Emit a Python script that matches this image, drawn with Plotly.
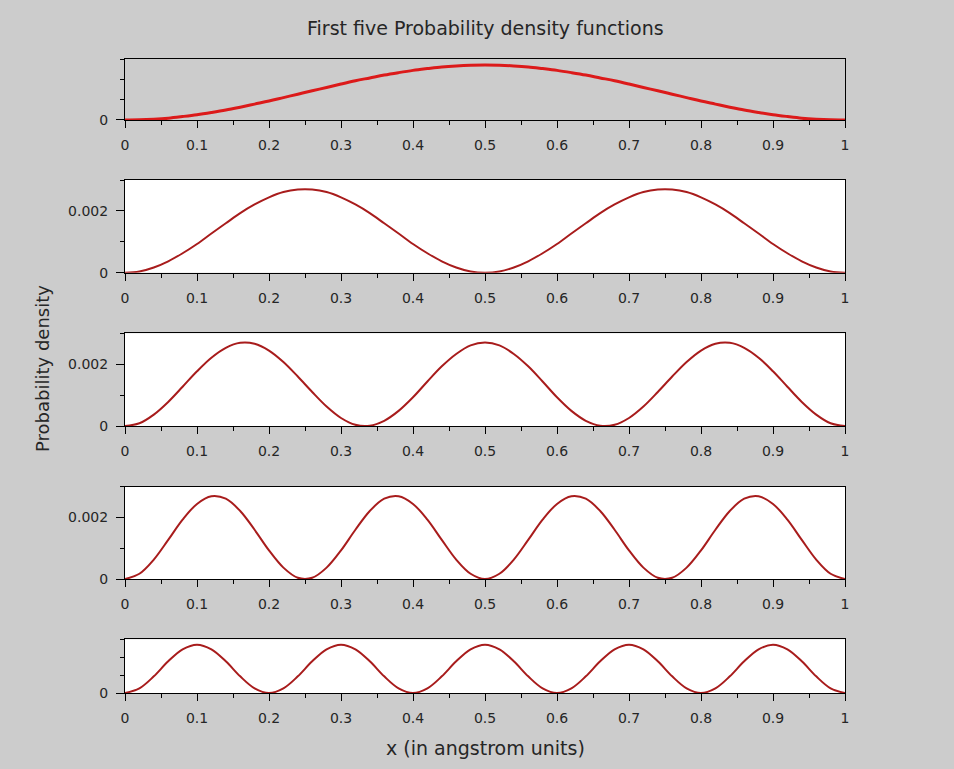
import plotly.graph_objects as go

# x positions (angstrom), step 0.02
x_vals = [round(0.02 * i, 2) for i in range(51)]

# probability densities for n = 1..5
pdf_n1 = [0, 0.00001, 0.00004, 0.00009, 0.00017, 0.00026, 0.00037, 0.00049, 0.00063, 0.00078,
          0.00093, 0.00110, 0.00127, 0.00144, 0.00160, 0.00177, 0.00193, 0.00207, 0.00221, 0.00233,
          0.00244, 0.00253, 0.00261, 0.00266, 0.00269, 0.00270, 0.00269, 0.00266, 0.00261, 0.00253,
          0.00244, 0.00233, 0.00221, 0.00207, 0.00193, 0.00177, 0.00160, 0.00144, 0.00127, 0.00110,
          0.00093, 0.00078, 0.00063, 0.00049, 0.00037, 0.00026, 0.00017, 0.00009, 0.00004, 0.00001, 0]
pdf_n2 = [0, 0.00004, 0.00017, 0.00037, 0.00063, 0.00093, 0.00127, 0.00160, 0.00193, 0.00221,
          0.00244, 0.00261, 0.00269, 0.00269, 0.00261, 0.00244, 0.00221, 0.00193, 0.00160, 0.00127,
          0.00093, 0.00063, 0.00037, 0.00017, 0.00004, 0, 0.00004, 0.00017, 0.00037, 0.00063,
          0.00093, 0.00127, 0.00160, 0.00193, 0.00221, 0.00244, 0.00261, 0.00269, 0.00269, 0.00261,
          0.00244, 0.00221, 0.00193, 0.00160, 0.00127, 0.00093, 0.00063, 0.00037, 0.00017, 0.00004, 0]
pdf_n3 = [0, 0.00009, 0.00037, 0.00078, 0.00127, 0.00177, 0.00221, 0.00253, 0.00269, 0.00266,
          0.00244, 0.00207, 0.00160, 0.00110, 0.00063, 0.00026, 0.00004, 0.00001, 0.00017, 0.00049,
          0.00093, 0.00144, 0.00193, 0.00233, 0.00261, 0.00270, 0.00261, 0.00233, 0.00193, 0.00144,
          0.00093, 0.00049, 0.00017, 0.00001, 0.00004, 0.00026, 0.00063, 0.00110, 0.00160, 0.00207,
          0.00244, 0.00266, 0.00269, 0.00253, 0.00221, 0.00177, 0.00127, 0.00078, 0.00037, 0.00009, 0]
pdf_n4 = [0, 0.00017, 0.00063, 0.00127, 0.00193, 0.00244, 0.00269, 0.00261, 0.00221, 0.00160,
          0.00093, 0.00037, 0.00004, 0.00004, 0.00037, 0.00093, 0.00160, 0.00221, 0.00261, 0.00269,
          0.00244, 0.00193, 0.00127, 0.00063, 0.00017, 0, 0.00017, 0.00063, 0.00127, 0.00193,
          0.00244, 0.00269, 0.00261, 0.00221, 0.00160, 0.00093, 0.00037, 0.00004, 0.00004, 0.00037,
          0.00093, 0.00160, 0.00221, 0.00261, 0.00269, 0.00244, 0.00193, 0.00127, 0.00063, 0.00017, 0]
pdf_n5 = [0, 0.00026, 0.00093, 0.00177, 0.00244, 0.00270, 0.00244, 0.00177, 0.00093, 0.00026,
          0, 0.00026, 0.00093, 0.00177, 0.00244, 0.00270, 0.00244, 0.00177, 0.00093, 0.00026,
          0, 0.00026, 0.00093, 0.00177, 0.00244, 0.00270, 0.00244, 0.00177, 0.00093, 0.00026,
          0, 0.00026, 0.00093, 0.00177, 0.00244, 0.00270, 0.00244, 0.00177, 0.00093, 0.00026,
          0, 0.00026, 0.00093, 0.00177, 0.00244, 0.00270, 0.00244, 0.00177, 0.00093, 0.00026, 0]

series = [pdf_n1, pdf_n2, pdf_n3, pdf_n4, pdf_n5]

x_tick_vals = [0, 0.1, 0.2, 0.3, 0.4, 0.5, 0.6, 0.7, 0.8, 0.9, 1]
x_tick_text = ["0", "0.1", "0.2", "0.3", "0.4", "0.5", "0.6", "0.7", "0.8", "0.9", "1"]

title_text = "First five Probability density functions"
x_title = "x (in angstrom units)"
y_title = "Probability density"

# layout geometry (paper fractions)
domains = [(0.9038, 1.0), (0.6629, 0.8091), (0.4211, 0.5674), (0.1798, 0.3254), (0.0, 0.0847)]
bgs = ["rgba(0,0,0,0)", "white", "white", "white", "white"]
colors = ["#dc1a1a", "#a81c1c", "#a81c1c", "#a81c1c", "#a81c1c"]
widths = [3, 2, 2, 2, 2]

FONT = "DejaVu Sans, Verdana, sans-serif"
BG = "#cccccc"
TXT = "#262626"

fig = go.Figure()
layout = dict(
    width=954, height=769,
    paper_bgcolor=BG,
    margin=dict(l=125, r=109, t=59, b=76),
    showlegend=False,
    font=dict(family=FONT, size=14, color=TXT),
    shapes=[],
)

for i, ys in enumerate(series):
    k = "" if i == 0 else str(i + 1)
    fig.add_trace(go.Scatter(
        x=x_vals, y=ys, mode="lines", xaxis="x" + k, yaxis="y" + k,
        line=dict(color=colors[i], width=widths[i], shape="spline", smoothing=1.0),
        hoverinfo="skip",
    ))
    layout["xaxis" + k] = dict(
        domain=[0, 1], anchor="y" + k, range=[0, 1],
        tickmode="array", tickvals=x_tick_vals, ticktext=x_tick_text,
        ticks="outside", ticklen=7, tickwidth=1, tickcolor="black",
        minor=dict(tickvals=[0.05, 0.15, 0.25, 0.35, 0.45, 0.55, 0.65, 0.75, 0.85, 0.95],
                   ticks="outside", ticklen=4, tickcolor="black", showgrid=False),
        showline=True, linecolor="black", linewidth=1, mirror=True,
        showgrid=False, zeroline=False, ticklabelstandoff=5,
        tickfont=dict(family=FONT, size=14, color=TXT),
    )
    if i in (0, 4):
        yt, ytt, ym = [0], ["0"], [0.001, 0.002, 0.003]
    else:
        yt, ytt, ym = [0, 0.002], ["0", "0.002"], [0.001, 0.003]
    layout["yaxis" + k] = dict(
        domain=list(domains[i]), anchor="x" + k, range=[0, 0.003],
        tickmode="array", tickvals=yt, ticktext=ytt,
        ticks="outside", ticklen=8, tickwidth=1, tickcolor="black",
        minor=dict(tickvals=ym, ticks="outside", ticklen=4, tickcolor="black", showgrid=False),
        showline=True, linecolor="black", linewidth=1, mirror=True,
        showgrid=False, zeroline=False, ticklabelstandoff=5,
        tickfont=dict(family=FONT, size=14, color=TXT),
    )
    layout["shapes"].append(dict(
        type="rect", xref="x" + k + " domain", yref="y" + k + " domain",
        x0=0, x1=1, y0=0, y1=1, fillcolor=bgs[i], line=dict(width=0), layer="below",
    ))

layout["annotations"] = [
    dict(text=title_text, xref="paper", yref="paper", x=0.5, y=1.049,
         xanchor="center", yanchor="middle", showarrow=False,
         font=dict(family=FONT, size=19, color=TXT)),
    dict(text=x_title, xref="paper", yref="paper", x=0.5, y=-0.0868,
         xanchor="center", yanchor="middle", showarrow=False,
         font=dict(family=FONT, size=19, color=TXT)),
    dict(text=y_title, xref="paper", yref="paper", x=-0.1153, y=0.5126,
         xanchor="center", yanchor="middle", showarrow=False, textangle=-90,
         font=dict(family=FONT, size=18, color=TXT)),
]
layout["plot_bgcolor"] = "rgba(0,0,0,0)"

fig.update_layout(**layout)
fig.write_html("out.html")
